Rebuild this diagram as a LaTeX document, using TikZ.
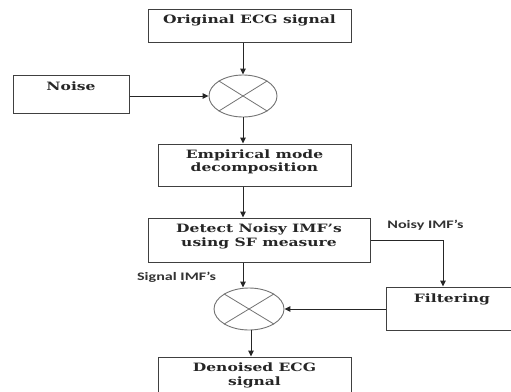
\documentclass[tikz,border=0pt]{standalone}
\usepackage{fontspec}
\setmainfont{DejaVu Serif}
\newfontfamily\boxfont{DejaVu Serif}[FakeStretch=1.35]
\newfontfamily\lblfont{Carlito}[FakeStretch=1.4]
\usetikzlibrary{arrows.meta,shapes.geometric,calc}

\tikzset{
  blk/.style={draw=black!75, line width=1pt, rectangle, inner sep=0pt},
  btext/.style={font=\boxfont\bfseries\fontsize{11.5}{13.5}\selectfont, align=center, inner sep=0pt, text=black!85},
  sum/.style={draw=black!55, line width=0.9pt, ellipse, inner sep=0pt},
  crossline/.style={draw=black!55, line width=0.8pt},
  flow/.style={draw=black!85, line width=1pt, -{Triangle[length=6pt,width=5.5pt]}},
  tag/.style={font=\lblfont\bfseries\fontsize{11.5}{13}\selectfont, inner sep=0pt, text=black!80}
}

\begin{document}
\begin{tikzpicture}[x=1pt,y=-1pt]
\useasboundingbox[fill=white] (0,0) rectangle (511,391);

% blocks
\node[blk, minimum width=203, minimum height=33] (orig) at (249.5,25.5) {};
\node[btext] (origt) at (249.5,20) {Original ECG signal};

\node[blk, minimum width=116, minimum height=38] (noise) at (71,94) {};
\node[btext] (noiset) at (71,86) {Noise};

\node[sum, minimum width=68, minimum height=42] (e1) at (243,96) {};
\draw[crossline] (e1.north west) -- (e1.south east) (e1.north east) -- (e1.south west);

\node[blk, minimum width=193, minimum height=42] (emd) at (254.5,165) {};
\node[btext] (emdt) at (254.5,162) {Empirical mode\\decomposition};

\node[blk, minimum width=222, minimum height=44] (det) at (259,240) {};
\node[btext] (dett) at (259,236.5) {Detect Noisy IMF’s\\using SF measure};

\node[blk, minimum width=130, minimum height=43] (filt) at (451,308.5) {};
\node[btext] (filtt) at (452,299) {Filtering};

\node[sum, minimum width=70, minimum height=42] (e2) at (249,309) {};
\draw[crossline] (e2.north west) -- (e2.south east) (e2.north east) -- (e2.south west);

\node[blk, minimum width=193, minimum height=40] (den) at (254.5,377) {};
\node[btext] (dent) at (254.5,375.5) {Denoised ECG\\signal};

% labels
\node[tag] (noisy) at (425.5,225) {Noisy IMF’s};
\node[tag] (sig) at (176.5,277) {Signal IMF’s};

% connectors
\draw[flow] (orig.south -| e1.north) -- (e1.north);
\draw[flow] (noise.east |- e1.west) -- (e1.west);
\draw[flow] (e1.south) -- (e1.south |- emd.north);
\draw[flow] (e1.south |- emd.south) -- (e1.south |- det.north);
\draw[flow] (det.east) -| ([xshift=-8pt]filt.north);
\draw[flow] (e1.south |- det.south) -- (e1.south |- e2.north);
\draw[flow] (filt.west |- e2.east) -- (e2.east);
\draw[flow] ([xshift=2pt]e2.south) -- ([xshift=2pt]e2.south |- den.north);
\end{tikzpicture}
\end{document}
